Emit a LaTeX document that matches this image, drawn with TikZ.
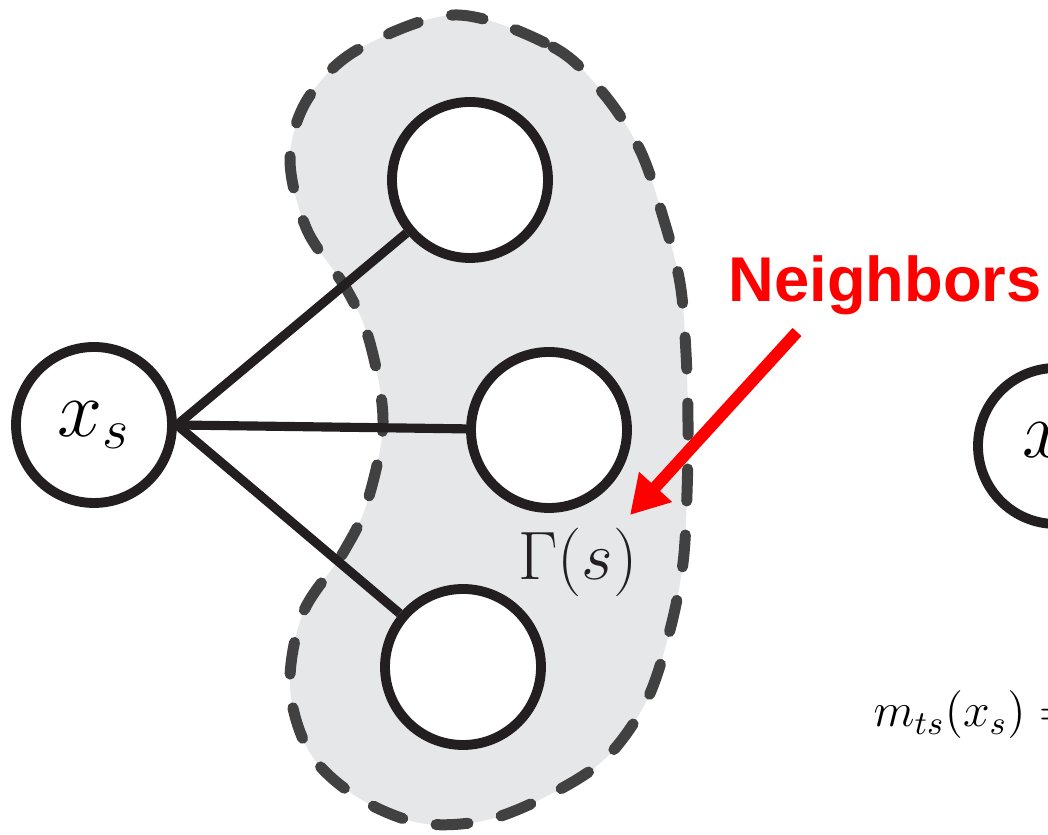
\RequirePackage{fix-cm}
\documentclass[tikz,border=0pt]{standalone}
\usepackage{fontspec}
\newfontfamily\labelfont{Liberation Sans}
\usetikzlibrary{arrows.meta}
\definecolor{blobfill}{HTML}{E6E7E8}
\definecolor{blobline}{HTML}{414141}
\definecolor{ink}{HTML}{231F20}
\begin{document}
\begin{tikzpicture}[
  var/.style={circle, draw=ink, line width=2.8pt, fill=white, minimum size=1.56cm, inner sep=0pt},
  edge/.style={draw=ink, line width=2.6pt}]
\useasboundingbox (0,0) rectangle (10.48,8.35);
\clip (0,0) rectangle (10.48,8.35);
\draw [fill=blobfill, draw=blobline, line width=0.11cm, line cap=round, dash pattern=on 0.32cm off 0.34cm]
  plot [smooth cycle, tension=0.55] coordinates {
    (4.55,8.20) (5.53,7.88) (6.03,7.42) (6.40,6.85) (6.63,6.18) (6.80,5.52)
    (6.86,4.82) (6.88,4.12) (6.87,3.42) (6.83,2.72) (6.70,2.05) (6.47,1.35)
    (6.07,0.78) (5.53,0.42) (4.87,0.15) (4.20,0.12) (3.57,0.38) (3.10,0.82)
    (2.90,1.48) (3.03,2.22) (3.43,2.82) (3.67,3.32) (3.83,4.12) (3.70,4.92)
    (3.47,5.45) (3.07,6.05) (2.90,6.75) (3.07,7.35) (3.57,7.85)};
\node [var] (xs) at (0.94,4.10) {\fontsize{23}{26}\selectfont $x_s$};
\node [var] (nbtop) at (4.70,6.55) {};
\node [var] (nbmid) at (5.49,4.05) {};
\node [var] (nbbot) at (4.63,1.68) {};
\node [var] (xt) at (10.56,3.89) {\fontsize{23}{26}\selectfont $x_t$};
\draw [edge] (xs.east) -- (nbtop);
\draw [edge] (xs.east) -- (nbmid);
\draw [edge] (xs.east) -- (nbbot);
\node [anchor=base, text=ink] (gam) at (5.78,2.55) {\fontsize{19.5}{22}\selectfont $\Gamma(s)$};
\node [anchor=base west, inner sep=0pt] (msg) at (8.73,1.08) {\fontsize{13.6}{16}\selectfont $m_{ts}(x_s)=$};
\node [anchor=base west, inner sep=0pt, text=red] (nbr) at (7.28,5.33) {\labelfont\bfseries\fontsize{18}{21}\selectfont Neighbors};
\coordinate (arrtail) at (7.97,5.03);
\coordinate (arrtip) at (6.30,3.20);
\draw [red, line width=0.12cm, -{Triangle[length=0.38cm, width=0.42cm]}] (arrtail) -- (arrtip);
\end{tikzpicture}
\end{document}
